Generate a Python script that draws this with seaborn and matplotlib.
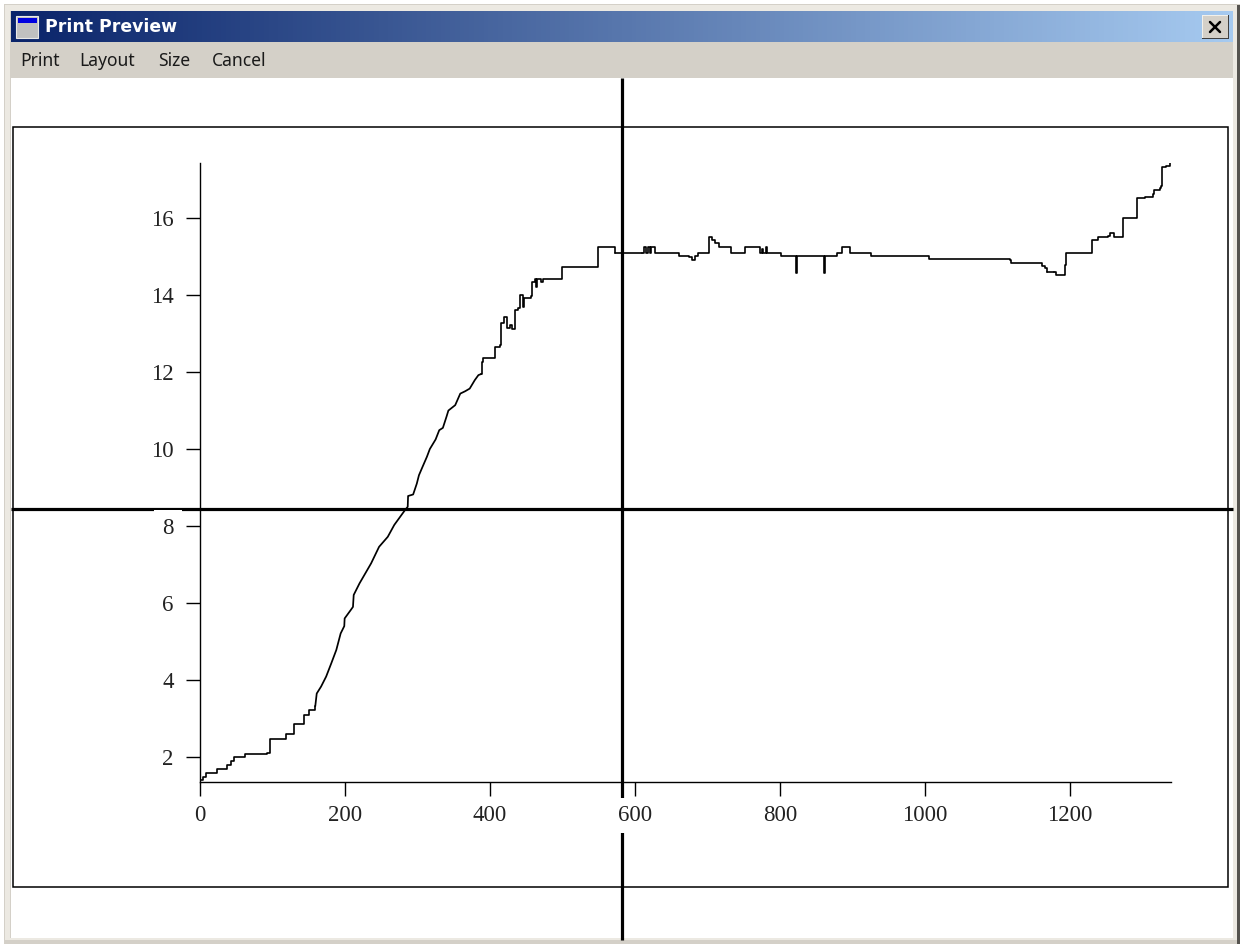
"""Print preview window with a stepped curve, drawn with seaborn."""

import matplotlib

matplotlib.use("Agg")
import matplotlib.pyplot as plt
import numpy as np
import pandas as pd
import seaborn as sns
from matplotlib.colors import LinearSegmentedColormap
from matplotlib.patches import Rectangle

# start of the curve, flat steps
start_x = [0, 4, 8, 23, 37, 43, 47, 62, 93, 96, 119, 129, 144, 151, 159]
start_y = [1.40, 1.49, 1.58, 1.68, 1.79, 1.90, 1.99, 2.08, 2.10, 2.48, 2.60, 2.87, 3.09, 3.22, 3.32]
# steep part, steps too small to see
climb_x = [
    159, 161, 167, 174, 181, 188, 194, 199, 199.5, 208, 211, 212, 220, 228, 236, 247, 259, 268,
    283, 286.5, 287, 294, 299, 302, 307, 313, 317, 325,
    330, 335, 340, 342.6, 352, 359, 365.6, 372, 379, 384, 388,
]
climb_y = [
    3.32, 3.65, 3.83, 4.09, 4.43, 4.78, 5.21, 5.40, 5.60, 5.82, 5.90, 6.21, 6.51, 6.77, 7.03, 7.46, 7.72, 8.03,
    8.42, 8.50, 8.78, 8.82, 9.10, 9.32, 9.54, 9.80, 10.00, 10.25,
    10.49, 10.55, 10.84, 11.00, 11.14, 11.44, 11.50, 11.57, 11.79, 11.92, 11.95,
]
shoulder_x = [
    388, 388.5, 391, 402, 407, 414, 415, 419, 423, 424,
    428, 430, 434, 435, 439, 441, 445, 446, 447, 456,
    458, 462, 464, 465, 470, 473, 499, 549, 570, 572,
]
shoulder_y = [
    11.95, 12.27, 12.36, 12.36, 12.66, 12.70, 13.27, 13.42, 13.35, 13.14,
    13.22, 13.11, 13.35, 13.60, 13.66, 14.00, 13.83, 13.70, 13.92, 13.98,
    14.35, 14.41, 14.22, 14.41, 14.35, 14.42, 14.74, 15.24, 15.24, 15.10,
]
plateau_x = [
    609, 613, 615, 618, 621, 622, 627, 659, 661, 674,
    678, 683, 687, 701, 702, 706, 710, 716, 733, 749,
    752, 772, 773, 775, 777, 781, 782, 799, 802, 821,
    822, 823, 860, 860.5, 861.5, 878, 879, 885, 886, 893,
    897, 923, 925, 1005, 1117, 1118, 1159, 1161, 1166, 1168,
]
plateau_y = [
    15.10, 15.24, 15.10, 15.24, 15.10, 15.24, 15.10, 15.10, 15.01, 14.99,
    14.91, 15.01, 15.10, 15.10, 15.52, 15.43, 15.35, 15.24, 15.10, 15.10,
    15.24, 15.24, 15.10, 15.20, 15.10, 15.24, 15.10, 15.10, 15.01, 15.01,
    14.58, 15.01, 15.01, 14.58, 15.01, 15.01, 15.10, 15.10, 15.24, 15.24,
    15.10, 15.10, 15.01, 14.93, 14.91, 14.82, 14.82, 14.76, 14.71, 14.60,
]
tail_x = [
    1178, 1180, 1192, 1193, 1194, 1228, 1231, 1238, 1253, 1255,
    1260, 1261, 1272, 1273, 1291, 1293, 1303, 1314, 1316, 1324,
    1326, 1327, 1333, 1338,
]
tail_y = [
    14.59, 14.51, 14.51, 14.77, 15.10, 15.10, 15.43, 15.50, 15.53, 15.62,
    15.60, 15.51, 15.51, 16.01, 16.01, 16.51, 16.55, 16.62, 16.73, 16.77,
    16.83, 17.33, 17.35, 17.42,
]
x_ticks = [0, 200, 400, 600, 800, 1000, 1200]
y_ticks = [2, 4, 6, 8, 10, 12, 14, 16]
menu_labels = ["Print", "Layout", "Size", "Cancel"]
menu_x = [20, 79, 158, 212]
window_title = "Print Preview"

WIDTH, HEIGHT = 1245, 944
BEIGE = "#d4d0c8"

sns.set_theme(style="ticks")
plt.rcParams["font.family"] = ["Liberation Serif", "DejaVu Serif"]

fig = plt.figure(figsize=(WIDTH / 100, HEIGHT / 100), dpi=100, facecolor="white")

# window chrome lives on a full figure axes in pixel units
chrome = fig.add_axes([0, 0, 1, 1], zorder=1)
chrome.set_xlim(0, WIDTH)
chrome.set_ylim(HEIGHT, 0)
chrome.axis("off")


def box(x0, y0, x1, y1, **kwargs):
    chrome.add_patch(Rectangle((x0, y0), x1 - x0, y1 - y0, **kwargs))


box(4, 4, 1240, 944, facecolor=BEIGE, edgecolor="none")
box(5, 5, 1237, 940, facecolor="#ece9e2", edgecolor="none")
box(1237, 5, 1240, 944, facecolor="#55534f", edgecolor="none")
box(10, 11, 1233, 938, facecolor=BEIGE, edgecolor="none")
box(11, 78, 1233, 938, facecolor="white", edgecolor="none")

title_cmap = LinearSegmentedColormap.from_list("title", ["#0a246a", "#a6caf0"])
chrome.imshow(
    np.linspace(0, 1, 256).reshape(1, -1),
    extent=(11, 1233, 42, 11),
    cmap=title_cmap,
    aspect="auto",
    zorder=1,
)
chrome.set_xlim(0, WIDTH)
chrome.set_ylim(HEIGHT, 0)

# title bar icon
box(16, 16, 39, 39, facecolor="#111111", edgecolor="none", zorder=2)
box(16, 16, 38, 38, facecolor="#c0c0c0", edgecolor="#e8e8e8", linewidth=0.8, zorder=2)
box(18, 18, 37, 23, facecolor="#0000e0", edgecolor="none", zorder=3)
chrome.text(
    45, 27.5, window_title, color="white", fontsize=12.4, fontweight="bold",
    family=["DejaVu Sans"], va="center", ha="left", zorder=3,
)

# close button
box(1202, 15, 1229, 39, facecolor="#404040", edgecolor="none", zorder=2)
box(1202, 15, 1228, 38, facecolor="#f2f0ea", edgecolor="none", zorder=2)
box(1203, 16, 1228, 38, facecolor=BEIGE, edgecolor="none", zorder=2)
chrome.plot([1210, 1220], [22, 32], color="black", lw=1.8, zorder=3)
chrome.plot([1220, 1210], [22, 32], color="black", lw=1.8, zorder=3)

for label, xpos in zip(menu_labels, menu_x):
    chrome.text(
        xpos, 61, label, color="#1a1a1a", fontsize=12.6, family=["Noto Sans"],
        va="center", ha="left",
    )

# page frame and crosshair
box(13, 127, 1228, 887, facecolor="none", edgecolor="black", linewidth=1.1, zorder=2)
chrome.plot([622, 622], [78, 940], color="black", lw=2.3, solid_capstyle="butt", zorder=3)
chrome.plot([11, 1233], [509, 509], color="black", lw=2.3, solid_capstyle="butt", zorder=3)

# plot area mapped so ticks land where the preview has them
ax = fig.add_axes(
    [200 / WIDTH, (HEIGHT - 782) / HEIGHT, 971 / WIDTH, 619 / HEIGHT], zorder=2
)
ax.patch.set_alpha(0)

stepped_parts = [(start_x, start_y), (shoulder_x, shoulder_y), (plateau_x, plateau_y), (tail_x, tail_y)]
for part_x, part_y in stepped_parts:
    sns.lineplot(
        data=pd.DataFrame({"x": part_x, "y": part_y}), x="x", y="y", ax=ax, color="black",
        linewidth=1.2, estimator=None, sort=False, drawstyle="steps-post",
    )
sns.lineplot(
    data=pd.DataFrame({"x": climb_x, "y": climb_y}), x="x", y="y", ax=ax, color="black",
    linewidth=1.25, estimator=None, sort=False,
)
# plateau runs on from the last shoulder value, tail from the last plateau value
sns.lineplot(x=[shoulder_x[-1], plateau_x[0]], y=[shoulder_y[-1], plateau_y[0]], ax=ax, color="black", linewidth=1.2)
sns.lineplot(x=[plateau_x[-1], tail_x[0]], y=[plateau_y[-1], plateau_y[-1]], ax=ax, color="black", linewidth=1.2)

ax.set_xlim(0, 1339.3)
ax.set_ylim(1.351, 17.43)
ax.set_xticks(x_ticks)
ax.set_yticks(y_ticks)
ax.set_xlabel("")
ax.set_ylabel("")
ax.tick_params(axis="both", length=10, width=1.0, color="black", labelsize=16.5, labelcolor="#222222")
ax.tick_params(axis="x", pad=6.5)
ax.tick_params(axis="y", pad=9)
sns.despine(ax=ax)
for spine in ax.spines.values():
    spine.set_linewidth(1.0)
    spine.set_color("black")

# labels blank out the crosshair behind them, as in the preview
for tick_label in ax.get_xticklabels():
    tick_label.set_bbox({"facecolor": "white", "edgecolor": "none", "pad": 5})
for tick_label in ax.get_yticklabels():
    tick_label.set_bbox({"facecolor": "white", "edgecolor": "none", "pad": 6})

fig.savefig("out.png", dpi=100, facecolor="white")
